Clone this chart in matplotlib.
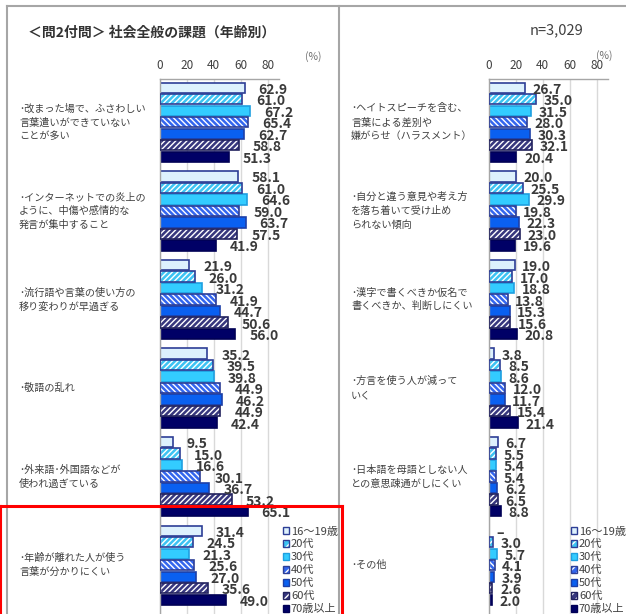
import numpy as np
import matplotlib
matplotlib.use("Agg")
import matplotlib.pyplot as plt
from matplotlib.patches import Patch
from matplotlib.lines import Line2D
from matplotlib.transforms import blended_transform_factory

plt.rcParams["font.family"] = ["Noto Sans CJK JP", "DejaVu Sans"]
plt.rcParams["hatch.linewidth"] = 1.0

W, H = 626, 614

AGES = ["16～19歳", "20代", "30代", "40代", "50代", "60代", "70歳以上"]

LEFT_CATS = [
    "･改まった場で、ふさわしい\n言葉遣いができていない\nことが多い",
    "･インターネットでの炎上の\nように、中傷や感情的な\n発言が集中すること",
    "･流行語や言葉の使い方の\n移り変わりが早過ぎる",
    "･敬語の乱れ",
    "･外来語･外国語などが\n使われ過ぎている",
    "･年齢が離れた人が使う\n言葉が分かりにくい",
]
LEFT_VALS = [
    [62.9, 61.0, 67.2, 65.4, 62.7, 58.8, 51.3],
    [58.1, 61.0, 64.6, 59.0, 63.7, 57.5, 41.9],
    [21.9, 26.0, 31.2, 41.9, 44.7, 50.6, 56.0],
    [35.2, 39.5, 39.8, 44.9, 46.2, 44.9, 42.4],
    [9.5, 15.0, 16.6, 30.1, 36.7, 53.2, 65.1],
    [31.4, 24.5, 21.3, 25.6, 27.0, 35.6, 49.0],
]

RIGHT_CATS = [
    "･ヘイトスピーチを含む、\n言葉による差別や\n嫌がらせ（ハラスメント）",
    "･自分と違う意見や考え方\nを落ち着いて受け止め\nられない傾向",
    "･漢字で書くべきか仮名で\n書くべきか、判断しにくい",
    "･方言を使う人が減って\nいく",
    "･日本語を母語としない人\nとの意思疎通がしにくい",
    "･その他",
]
RIGHT_VALS = [
    [26.7, 35.0, 31.5, 28.0, 30.3, 32.1, 20.4],
    [20.0, 25.5, 29.9, 19.8, 22.3, 23.0, 19.6],
    [19.0, 17.0, 18.8, 13.8, 15.3, 15.6, 20.8],
    [3.8, 8.5, 8.6, 12.0, 11.7, 15.4, 21.4],
    [6.7, 5.5, 5.4, 5.4, 6.2, 6.5, 8.8],
    [np.nan, 3.0, 5.7, 4.1, 3.9, 2.6, 2.0],
]

# style per age group: (face, edge, hatch)
STYLE = [
    ("#ddf1fd", "#2d3e96", None),
    ("#3cc3f3", "#2d3e96", "//////"),
    ("#33ccff", "#1f9fe0", None),
    ("#3366ee", "#2d3e96", "\\\\\\\\\\\\"),
    ("#0a60f0", "#1c3fa8", None),
    ("#37377e", "#22225e", "//////"),
    ("#000066", "#000055", None),
]

PITCH = 7.70    # group pitch in bar slots
TOP = 0.26
TEXT = "#404040"


def fx(px):
    return px / W


def fy(py):
    return 1 - py / H


fig = plt.figure(figsize=(W / 100, H / 100), dpi=100)


def panel(left_px, label_px, cats, vals, dx):
    ax = fig.add_axes([fx(left_px), 0, 119 / W, 535 / H])
    for i, row in enumerate(vals):
        y0 = TOP + i * PITCH
        for j, v in enumerate(row):
            y = y0 + j + 0.5
            face, edge, hatch = STYLE[j]
            if not np.isnan(v):
                if hatch:
                    ax.barh(y, v, height=0.9, color=face, edgecolor="white",
                            hatch=hatch, lw=0, zorder=2)
                    ax.barh(y, v, height=0.9, fill=False, edgecolor=edge, lw=1.2, zorder=3)
                else:
                    ax.barh(y, v, height=0.9, color=face, edgecolor=edge, lw=1.2, zorder=2)
                txt = f"{v:.1f}"
            else:
                v, txt = 0, "–"
            ax.annotate(txt, xy=(v, y), xytext=(dx, -1.5), textcoords="offset points",
                        ha="left", va="center", fontsize=10, fontweight="bold",
                        color="#3a3a3a", annotation_clip=False, zorder=4)
        tr = blended_transform_factory(fig.transFigure, ax.transData)
        ax.text(fx(label_px), y0 + 3.5, cats[i], transform=tr, ha="left", va="center",
                fontsize=7.3, color=TEXT, linespacing=1.45)
    ax.set_xlim(0, 88.5)
    ax.set_ylim(TOP + 46.24, 0)
    ax.xaxis.tick_top()
    ax.set_xticks([0, 20, 40, 60, 80])
    ax.set_yticks([])
    ax.tick_params(axis="x", length=0, pad=5, labelsize=8.5, labelcolor=TEXT)
    ax.grid(axis="x", color="#d9d9d9", lw=1.0, zorder=0)
    ax.set_axisbelow(True)
    for s in ("right", "bottom"):
        ax.spines[s].set_visible(False)
    for s in ("top", "left"):
        ax.spines[s].set_color("#a6a6a6")
        ax.spines[s].set_linewidth(1.0)
    ax.patch.set_alpha(0)
    return ax


axL = panel(160, 19, LEFT_CATS, LEFT_VALS, 10)
axR = panel(489, 351, RIGHT_CATS, RIGHT_VALS, 5.5)

# legends (one per panel)
handles = []
for face, edge, hatch in STYLE:
    if hatch:
        handles.append((Patch(facecolor=face, edgecolor="white", hatch="////", lw=0),
                        Patch(fill=False, edgecolor=edge, lw=1.0)))
    else:
        handles.append(Patch(facecolor=face, edgecolor=edge, lw=1.0))
for lx in (277, 565):
    fig.legend(handles, AGES, loc="upper left", bbox_to_anchor=(fx(lx), fy(521)),
               frameon=False, fontsize=8, handlelength=0.55, handleheight=0.55,
               handletextpad=0.2, labelspacing=0.26, borderpad=0, labelcolor=TEXT)

# title and notes
fig.text(fx(28), fy(33), "＜問2付問＞ 社会全般の課題（年齢別）", ha="left", va="center",
         fontsize=10, fontweight="bold", color="#333333")
fig.text(fx(530), fy(30), "n=3,029", ha="left", va="center", fontsize=10.5, color=TEXT)
fig.text(fx(313), fy(57), "(%)", ha="center", va="center", fontsize=7.5, color="#707070")
fig.text(fx(604), fy(56), "(%)", ha="center", va="center", fontsize=7.5, color="#707070")

# outer frame and divider
gray = "#a6a6a6"
fig.add_artist(Line2D([fx(7), 1], [fy(6), fy(6)], color=gray, lw=1.5))
fig.add_artist(Line2D([fx(7), fx(7)], [fy(6), 0], color=gray, lw=1.5))
fig.add_artist(Line2D([fx(339), fx(339)], [fy(6), 0], color=gray, lw=1.5))

# red highlight box
red = "#ff0000"
fig.add_artist(Line2D([0, fx(342)], [fy(506), fy(506)], color=red, lw=2.2))
fig.add_artist(Line2D([fx(342), fx(342)], [fy(506), 0], color=red, lw=2.2))
fig.add_artist(Line2D([fx(0.5), fx(0.5)], [fy(506), 0], color=red, lw=1.5))

fig.savefig("out.png", dpi=100)
